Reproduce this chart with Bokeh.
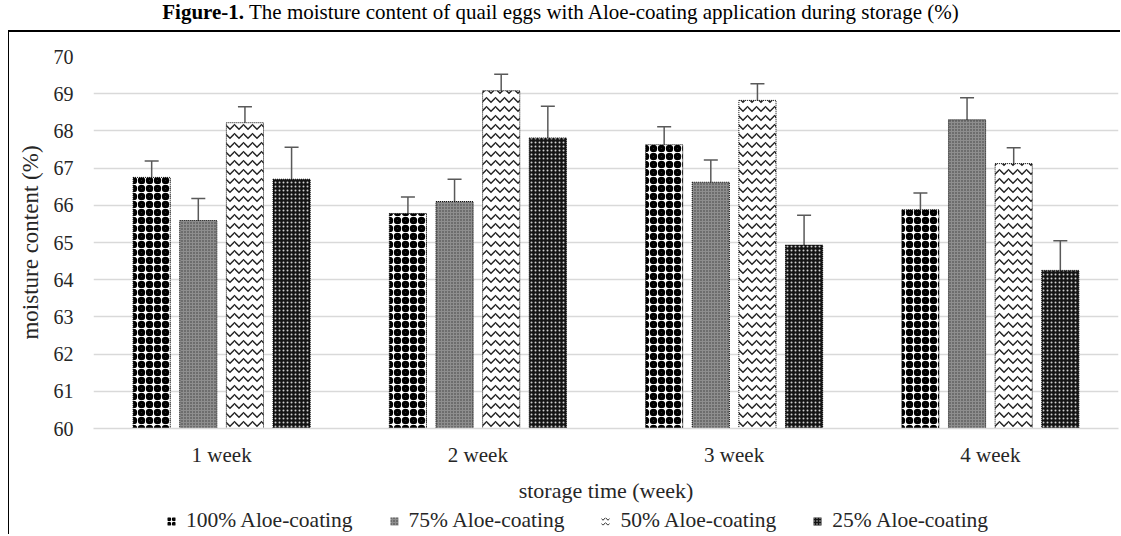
from bokeh.plotting import figure
from bokeh.models import (ColumnDataSource, Whisker, TeeHead, Legend, LegendItem,
                          Div, Range1d, FixedTicker)
from bokeh.transform import dodge
from bokeh.layouts import column
from bokeh.embed import file_html
from bokeh.resources import INLINE

weeks = ["1 week", "2 week", "3 week", "4 week"]
series = ["100% Aloe-coating", "75% Aloe-coating", "50% Aloe-coating", "25% Aloe-coating"]
v100 = [66.75, 65.78, 67.63, 65.88]
v75 = [65.59, 66.10, 66.62, 68.30]
v50 = [68.22, 69.08, 68.82, 67.12]
v25 = [66.70, 67.81, 64.93, 64.25]
e100 = [0.44, 0.44, 0.48, 0.45]
e75 = [0.59, 0.60, 0.60, 0.59]
e50 = [0.43, 0.44, 0.45, 0.43]
e25 = [0.86, 0.85, 0.80, 0.80]
y_ticks = list(range(60, 71))

FONT = "Liberation Serif"
TXT = "#262626"

title = Div(
    text=('<div style="font-family:\'Liberation Serif\';font-size:21px;color:#000;'
          'text-align:center;width:1121px;padding-top:0px;line-height:24px;white-space:nowrap">'
          '<b>Figure-1.</b> The moisture content of quail eggs with Aloe-coating '
          'application during storage (%)</div>'),
    width=1121, height=30, margin=(0, 0, 0, 0))

p = figure(x_range=weeks, y_range=Range1d(60, 70), width=1112, height=473,
           output_backend="svg", toolbar_location=None,
           min_border_left=84, min_border_right=3, min_border_top=24,
           min_border_bottom=77)
p.margin = (0, 0, 0, 8)
p.styles = {"border-top": "2px solid black", "border-left": "1px solid black"}
p.outline_line_color = None
p.background_fill_color = "white"
p.border_fill_color = "white"

p.xgrid.grid_line_color = None
p.ygrid.grid_line_color = "#d9d9d9"
p.ygrid.grid_line_width = 1.5
p.yaxis.ticker = FixedTicker(ticks=y_ticks)

for ax in (p.xaxis[0], p.yaxis[0]):
    ax.major_tick_line_color = None
    ax.minor_tick_line_color = None
    ax.major_label_text_font = FONT
    ax.major_label_text_color = TXT
    ax.axis_label_text_font = FONT
    ax.axis_label_text_font_style = "normal"
    ax.axis_label_text_color = TXT
p.yaxis.axis_line_color = None
p.xaxis.axis_line_color = "#d9d9d9"
p.xaxis.axis_line_width = 1.5
p.yaxis.major_label_text_font_size = "20px"
p.xaxis.major_label_text_font_size = "21px"
p.yaxis.axis_label = "moisture content (%)"
p.xaxis.axis_label = "storage time (week)"
p.yaxis.axis_label_text_font_size = "23px"
p.xaxis.axis_label_text_font_size = "22px"
p.yaxis.major_label_standoff = 14
p.yaxis.axis_label_standoff = 8
p.xaxis.major_label_standoff = 8
p.xaxis.axis_label_standoff = 8

styles = [
    dict(fill_color="white", hatch_pattern="ring", hatch_color="black",
         hatch_scale=8, hatch_weight=3.5),
    dict(fill_color="#8e8e8e", hatch_pattern="dot", hatch_color="#3a3a3a",
         hatch_scale=3),
    dict(fill_color="white", hatch_pattern="horizontal_wave", hatch_color="#222222",
         hatch_scale=9, hatch_weight=1.5),
    dict(fill_color="#141414", hatch_pattern="dot", hatch_color="#d0d0d0",
         hatch_scale=4),
]
legend_styles = [
    dict(fill_color="white", hatch_pattern="ring", hatch_color="black",
         hatch_scale=5, hatch_weight=2),
    dict(fill_color="#8e8e8e", hatch_pattern="dot", hatch_color="#3a3a3a",
         hatch_scale=3),
    dict(fill_color="white", hatch_pattern="horizontal_wave", hatch_color="#222222",
         hatch_scale=5, hatch_weight=1),
    dict(fill_color="#141414", hatch_pattern="dot", hatch_color="#d0d0d0",
         hatch_scale=3),
]
offsets = [-0.273, -0.091, 0.091, 0.273]
values = [v100, v75, v50, v25]
errors = [e100, e75, e50, e25]

# legend strip: a second figure holding hidden copies of the bar renderers,
# so that the legend below the chart is not clipped by the main frame
lp = figure(width=1112, height=31, output_backend="svg", toolbar_location=None,
            x_range=weeks, y_range=Range1d(0, 1),
            min_border=0, min_border_left=0, min_border_right=0,
            min_border_top=0, min_border_bottom=0)
lp.margin = (0, 0, 0, 8)
lp.styles = {"border-left": "1px solid black"}
lp.axis.visible = False
lp.grid.visible = False
lp.outline_line_color = None
lp.border_fill_color = "white"
lp.background_fill_color = "white"

items = []
for name, vals, errs, off, st, lst in zip(series, values, errors, offsets, styles,
                                          legend_styles):
    src = ColumnDataSource(dict(
        weeks=weeks, top=vals,
        upper=[v + e for v, e in zip(vals, errs)],
        lower=[v - e for v, e in zip(vals, errs)]))
    p.vbar(x=dodge("weeks", off, range=p.x_range), top="top", bottom=60,
           width=0.145, source=src, line_color="black", line_dash="1 1",
           line_width=1, **st)
    w = Whisker(source=src, base=dodge("weeks", off, range=p.x_range),
                upper="upper", lower="lower", line_color="#595959", line_width=1.5,
                upper_head=TeeHead(size=14, line_color="#595959", line_width=1.5),
                lower_head=TeeHead(size=14, line_color="#595959", line_width=1,
                                   line_alpha=0.6))
    p.add_layout(w)
    lr = lp.vbar(x=dodge("weeks", off, range=lp.x_range), top="top", bottom=60,
                 width=0.145, source=src, line_color=None, **lst)
    lr.visible = False
    items.append(LegendItem(label=name, renderers=[lr]))

legend = Legend(items=items, orientation="horizontal", location=(73, 1))
legend.label_text_font = FONT
legend.label_text_font_size = "21.5px"
legend.label_text_color = TXT
legend.glyph_width = 10
legend.glyph_height = 10
legend.label_standoff = 10
legend.spacing = 36
legend.padding = 0
legend.margin = 0
legend.border_line_color = None
legend.background_fill_alpha = 0
legend.inactive_fill_alpha = 0
lp.add_layout(legend)

layout = column(title, p, lp, spacing=0)
open("out.html", "w").write(file_html(layout, INLINE))
